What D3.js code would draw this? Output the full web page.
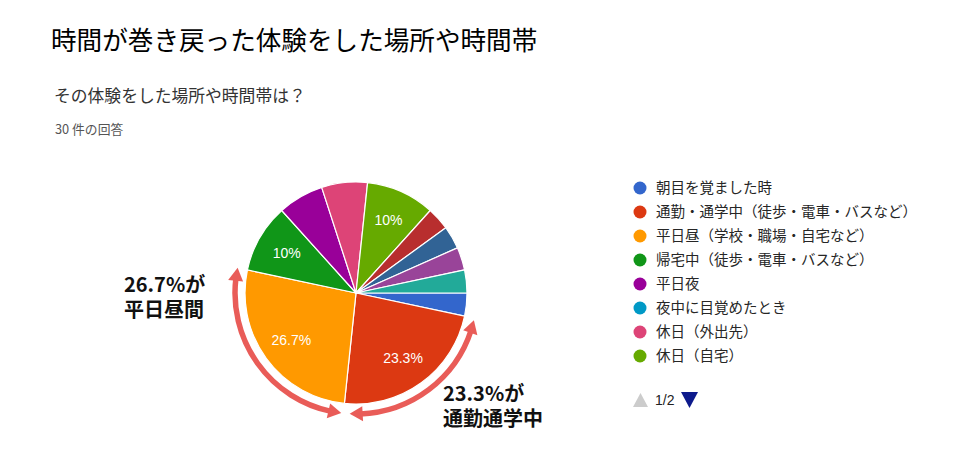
<!DOCTYPE html>
<html><head><meta charset="utf-8">
<script src="https://cdn.jsdelivr.net/npm/d3@7"></script>
<style>body{margin:0;background:#fff;} svg{display:block;}</style>
</head><body>
<svg id="c" width="959" height="450"></svg>
<script>
const title = "時間が巻き戻った体験をした場所や時間帯";
const subtitle = "その体験をした場所や時間帯は？";
const responses = "30 件の回答";
const categories = ["朝目を覚ました時","通勤・通学中（徒歩・電車・バスなど）","平日昼（学校・職場・自宅など）","帰宅中（徒歩・電車・バスなど）","平日夜","夜中に目覚めたとき","休日（外出先）","休日（自宅）","その他A","その他B","その他C","その他D"];
const counts = [1,7,8,3,2,0,2,3,1,1,1,1];
const colors = ["#3366cc","#dc3912","#ff9900","#109618","#990099","#0099c6","#dd4477","#66aa00","#b82e2e","#316395","#994499","#22aa99"];
const legendCount = 8;
const pageLabel = "1/2";
const annotations = [["26.7%が","平日昼間"],["23.3%が","通勤通学中"]];

const svg = d3.select("#c");
const FF = "'Noto Sans CJK JP', 'Liberation Sans', Arial, sans-serif";
const AF = "Arial, 'Liberation Sans', sans-serif";

svg.append("text").attr("x",51).attr("y",50).attr("font-family",FF).attr("font-size",25.6).attr("fill","#000").text(title);
svg.append("text").attr("x",54).attr("y",102).attr("font-family",FF).attr("font-size",16.8).attr("fill","#333").text(subtitle);
svg.append("text").attr("x",55).attr("y",134).attr("font-family",FF).attr("font-size",12.8).attr("fill","#555").text(responses);

const cx = 356, cy = 293, R = 111;
const total = d3.sum(counts);
const pie = d3.pie().sort(null).value(d=>d).startAngle(Math.PI/2).endAngle(Math.PI/2 + 2*Math.PI);
const arcs = pie(counts);
const arc = d3.arc().innerRadius(0).outerRadius(R);
const g = svg.append("g").attr("transform",`translate(${cx},${cy})`);
g.selectAll("path.s").data(arcs.filter(a=>a.value>0)).join("path")
  .attr("class","s").attr("d",arc).attr("fill",(d)=>colors[d.index])
  .attr("stroke","#fff").attr("stroke-width",1.2).attr("stroke-linejoin","round");
const lab = d3.arc().innerRadius(R*0.72).outerRadius(R*0.72);
g.selectAll("text.p").data(arcs.filter(a=>a.value/total>=0.09)).join("text")
  .attr("class","p").attr("transform",d=>`translate(${lab.centroid(d)})`)
  .attr("text-anchor","middle").attr("dy","0.36em").attr("font-family",AF).attr("font-size",14).attr("fill","#fff")
  .text(d=>{const p=Math.round(d.value/total*1000)/10; return (Number.isInteger(p)?p.toFixed(0):p.toFixed(1))+"%";});

// annotation arrows around slices 1 and 2
const AC = "#e95c58";
function arrowArc(a0, a1, r){
  const pt = (a,rr)=>[Math.sin(a)*rr, -Math.cos(a)*rr];
  const headLen = 13, headW = 7.5;
  const da = headLen / r;
  const dir = a1 > a0 ? 1 : -1;
  const s0 = a0 + dir*da*0.8, s1 = a1 - dir*da*0.8;
  const p = d3.path();
  const st = pt(s0,r);
  p.moveTo(st[0],st[1]);
  p.arc(0,0,r,s0-Math.PI/2,s1-Math.PI/2, dir<0);
  g.append("path").attr("d",p.toString()).attr("fill","none").attr("stroke",AC).attr("stroke-width",5.5);
  [[a0,-dir],[a1,dir]].forEach(([a,dd])=>{
    const tip = pt(a,r);
    const base = a - dd*da;
    const b1 = pt(base, r+headW), b2 = pt(base, r-headW);
    g.append("path").attr("d",`M${tip[0]},${tip[1]}L${b1[0]},${b1[1]}L${b2[0]},${b2[1]}Z`).attr("fill",AC);
  });
}
const deg = Math.PI/180;
arrowArc(arcs[2].startAngle + 1*deg, arcs[2].endAngle, 121);
arrowArc(arcs[1].startAngle + 1*deg, arcs[1].endAngle - 3*deg, 121);

const annPos = [[124,292],[443,401]];
annotations.forEach((lines,i)=>{
  const t = svg.append("text").attr("x",annPos[i][0]).attr("y",annPos[i][1])
    .attr("font-family",FF).attr("font-weight","bold").attr("font-size",20).attr("fill","#111");
  lines.forEach((s,j)=>{
    t.append("tspan").attr("x",annPos[i][0]).attr("dy", j===0?0:25).text(s);
  });
});

// legend
const ly = d3.scalePoint().domain(d3.range(legendCount)).range([188,356]);
const lg = svg.append("g");
categories.slice(0,legendCount).forEach((c,i)=>{
  lg.append("circle").attr("cx",640).attr("cy",ly(i)).attr("r",6.5).attr("fill",colors[i]);
  lg.append("text").attr("x",656).attr("y",ly(i)+5).attr("font-family",FF).attr("font-size",14.5).attr("fill","#262626").text(c);
});
lg.append("path").attr("d","M633,407L648,407L640.5,393Z").attr("fill","#ccc");
lg.append("text").attr("x",655).attr("y",405).attr("font-family",AF).attr("font-size",14).attr("fill","#222").text(pageLabel);
lg.append("path").attr("d","M681,392L698,392L689.5,408Z").attr("fill","#0d1a8c");
</script>
</body></html>
